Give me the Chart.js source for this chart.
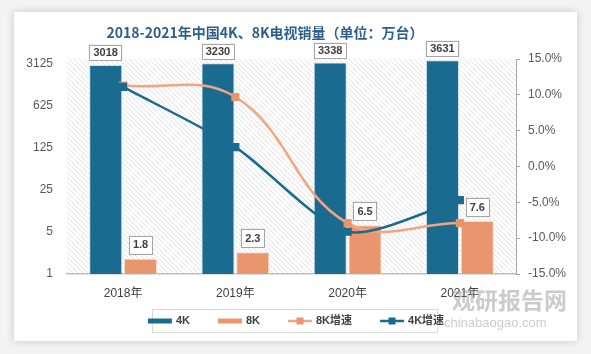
<!DOCTYPE html>
<html>
<head>
<meta charset="utf-8">
<script src="https://cdn.jsdelivr.net/npm/chart.js@4.4.1/dist/chart.umd.min.js"></script>
<style>
  html, body { margin: 0; padding: 0; background: #f3f3f3; }
  canvas { display: block; }
</style>
</head>
<body>
<canvas id="sales" width="591" height="354"></canvas>
<script>
var years = ['2018年', '2019年', '2020年', '2021年'];
var sales4K = [3018, 3230, 3338, 3631];
var sales8K = [1.8, 2.3, 6.5, 7.6];
var growth8K = [11.3, 9.7, -7.9, -7.9];
var growth4K = [11.1, 2.7, -9.1, -4.7];
var leftTicks = [1, 5, 25, 125, 625, 3125];

var blue = '#1b6a8f';
var salmon = '#e9956d';
var salmonLine = '#f2a583';
var textFont = '"Liberation Sans", "Noto Sans CJK SC", sans-serif';

// hatched plot background
var tile = document.createElement('canvas');
tile.width = 5; tile.height = 5;
var tc = tile.getContext('2d');
tc.strokeStyle = '#e2e2e2';
tc.lineWidth = 1;
tc.beginPath();
tc.moveTo(-1, -1); tc.lineTo(6, 6);
tc.moveTo(-1, 4); tc.lineTo(1, 6);
tc.moveTo(4, -1); tc.lineTo(6, 1);
tc.stroke();

var cardPlugin = {
  id: 'card',
  beforeDraw: function(chart) {
    var ctx = chart.ctx, a = chart.chartArea;
    ctx.save();
    ctx.fillStyle = '#f3f3f3';
    ctx.fillRect(0, 0, chart.width, chart.height);
    ctx.shadowColor = 'rgba(0,0,0,0.18)';
    ctx.shadowBlur = 8;
    ctx.fillStyle = '#ffffff';
    ctx.fillRect(14, 12, 563, 329);
    ctx.shadowBlur = 0;
    ctx.fillStyle = ctx.createPattern(tile, 'repeat');
    ctx.fillRect(a.left, a.top, a.right - a.left, a.bottom - a.top);
    // title
    ctx.fillStyle = '#2d5f8c';
    ctx.font = 'bold 14px "Noto Sans CJK SC", sans-serif';
    ctx.textAlign = 'center';
    ctx.textBaseline = 'middle';
    ctx.fillText('2018-2021年中国4K、8K电视销量（单位：万台）', 265, 33);
    ctx.restore();
  }
};

function labelBox(ctx, text, x, bottom, h) {
  ctx.font = 'bold 11px ' + textFont;
  var w = ctx.measureText(text).width + 8;
  ctx.fillStyle = '#ffffff';
  ctx.shadowColor = 'rgba(0,0,0,0.15)';
  ctx.shadowBlur = 2;
  ctx.fillRect(x - w / 2, bottom - h, w, h);
  ctx.shadowBlur = 0;
  ctx.strokeStyle = '#a6a6a6';
  ctx.lineWidth = 1;
  ctx.strokeRect(Math.round(x - w / 2) + 0.5, Math.round(bottom - h) + 0.5, Math.round(w), h);
  ctx.fillStyle = '#404040';
  ctx.textAlign = 'center';
  ctx.textBaseline = 'middle';
  ctx.fillText(text, x, bottom - h / 2 + 0.5);
}

var labelsPlugin = {
  id: 'valueLabels',
  afterDatasetsDraw: function(chart) {
    var ctx = chart.ctx;
    ctx.save();
    chart.getDatasetMeta(0).data.forEach(function(el, i) {
      labelBox(ctx, String(sales4K[i]), el.x, Math.min(el.y - 4, 60), 15);
    });
    chart.getDatasetMeta(1).data.forEach(function(el, i) {
      labelBox(ctx, String(sales8K[i]), el.x, el.y - 5, 18);
    });
    ctx.restore();
  }
};

var legendPlugin = {
  id: 'boxLegend',
  afterDraw: function(chart) {
    var ctx = chart.ctx;
    var order = [0, 1, 2, 3];
    ctx.save();
    ctx.font = 'bold 11px ' + textFont;
    var items = order.map(function(i) {
      var ds = chart.data.datasets[i];
      return { ds: ds, w: 24 + 4 + ctx.measureText(ds.label).width };
    });
    var gap = 28;
    var total = items.reduce(function(s, it) { return s + it.w; }, 0) + gap * (items.length - 1);
    var x = 296 - total / 2, y = 321;
    ctx.strokeStyle = '#d9d9d9';
    ctx.lineWidth = 1;
    ctx.strokeRect(152.5, 309.5, 285, 23);
    items.forEach(function(it) {
      var ds = it.ds;
      if (ds.type === 'line') {
        ctx.strokeStyle = ds.borderColor;
        ctx.lineWidth = 2.5;
        ctx.beginPath(); ctx.moveTo(x, y); ctx.lineTo(x + 24, y); ctx.stroke();
        ctx.fillStyle = ds.pointBackgroundColor;
        ctx.fillRect(x + 12 - 3.5, y - 3.5, 7, 7);
      } else {
        ctx.fillStyle = ds.backgroundColor;
        ctx.fillRect(x, y - 2.5, 24, 5);
      }
      ctx.fillStyle = '#404040';
      ctx.textAlign = 'left';
      ctx.textBaseline = 'middle';
      ctx.fillText(ds.label, x + 28, y);
      x += it.w + gap;
    });
    // watermark
    ctx.globalAlpha = 0.45;
    ctx.fillStyle = '#8c8c8c';
    ctx.font = 'bold 23px "Noto Sans CJK SC", sans-serif';
    ctx.textAlign = 'left';
    ctx.fillText('观研报告网', 452, 300);
    ctx.font = '13px ' + textFont;
    ctx.fillText('chinabaogao.com', 444, 323);
    ctx.restore();
  }
};

new Chart(document.getElementById('sales'), {
  type: 'bar',
  data: {
    labels: years,
    datasets: [{
      label: '4K',
      data: sales4K,
      backgroundColor: blue,
      borderColor: '#cfe0ea',
      borderWidth: 1,
      yAxisID: 'y',
      order: 2,
      categoryPercentage: 0.62,
      barPercentage: 0.95
    }, {
      label: '8K',
      data: sales8K,
      backgroundColor: salmon,
      borderColor: '#f6dccf',
      borderWidth: 1,
      yAxisID: 'y',
      order: 3,
      categoryPercentage: 0.62,
      barPercentage: 0.95
    }, {
      type: 'line',
      label: '8K增速',
      data: growth8K,
      borderColor: salmonLine,
      backgroundColor: salmonLine,
      pointBackgroundColor: salmon,
      pointBorderColor: salmon,
      pointStyle: 'rect',
      pointRadius: 4,
      borderWidth: 2.5,
      tension: 0.4,
      yAxisID: 'y1',
      order: 1
    }, {
      type: 'line',
      label: '4K增速',
      data: growth4K,
      borderColor: blue,
      backgroundColor: blue,
      pointBackgroundColor: blue,
      pointBorderColor: blue,
      pointStyle: 'rect',
      pointRadius: 4,
      borderWidth: 2.5,
      tension: 0.25,
      yAxisID: 'y1',
      order: 0
    }]
  },
  options: {
    responsive: false,
    animation: false,
    layout: { padding: { left: 14, right: 14, top: 59, bottom: 50 } },
    plugins: {
      legend: { display: false },
      title: { display: false },
      tooltip: { enabled: false }
    },
    scales: {
      x: {
        grid: { display: false, drawTicks: false },
        border: { display: true, color: '#bfbfbf', width: 1.5 },
        ticks: { color: '#404040', padding: 12, font: { size: 12, family: textFont } },
        afterFit: function(s) { s.height = 30; }
      },
      y: {
        type: 'logarithmic',
        position: 'left',
        min: 1,
        max: 3800,
        afterBuildTicks: function(s) {
          s.ticks = leftTicks.map(function(v) { return { value: v }; });
        },
        grid: { display: false, drawTicks: false },
        border: { display: false },
        ticks: {
          autoSkip: false,
          color: '#595959',
          padding: 14,
          font: { size: 12, family: textFont },
          callback: function(v) { return String(v); }
        },
        afterFit: function(s) { s.width = 53; }
      },
      y1: {
        position: 'right',
        min: -15,
        max: 15,
        grid: { drawOnChartArea: false, drawTicks: true, tickLength: 4, color: '#a6a6a6' },
        border: { display: true, color: '#a6a6a6' },
        ticks: {
          stepSize: 5,
          color: '#595959',
          padding: 8,
          font: { size: 12, family: textFont },
          callback: function(v) { return v.toFixed(1) + '%'; }
        },
        afterFit: function(s) { s.width = 61; }
      }
    }
  },
  plugins: [cardPlugin, labelsPlugin, legendPlugin]
});
</script>
</body>
</html>
